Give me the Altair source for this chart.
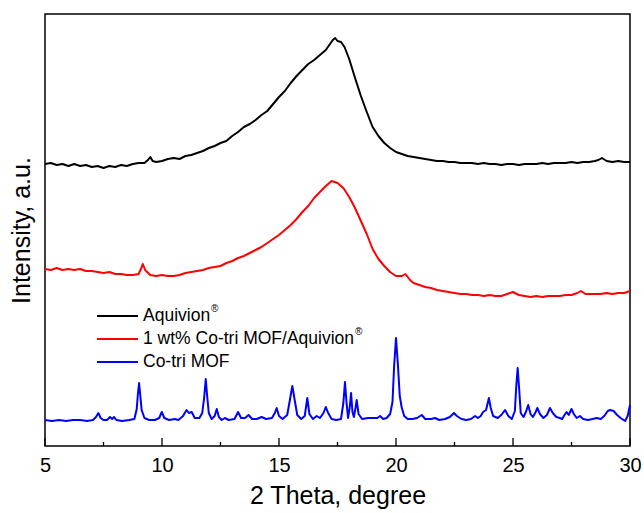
import altair as alt
import pandas as pd

# ---- data ----
series_names = ["Aquivion®", "1 wt% Co-tri MOF/Aquivion®", "Co-tri MOF"]
legend_main = ["Aquivion", "1 wt% Co-tri MOF/Aquivion", "Co-tri MOF"]
legend_sup = ["®", "®", ""]
series_colors = ["#000000", "#ff0000", "#0000ff"]

black_x = [5.00, 5.25, 5.50, 5.75, 6.00, 6.25, 6.50, 6.75, 7.00, 7.25, 7.50, 7.75, 8.00, 8.25, 8.50, 8.75,
           9.00, 9.25, 9.40, 9.50, 9.60, 9.75, 10.00, 10.25, 10.50, 10.75, 11.00, 11.25, 11.50, 11.75, 12.00,
           12.25, 12.50, 12.75, 13.00, 13.25, 13.50, 13.75, 14.00, 14.25, 14.50, 14.75, 15.00, 15.25, 15.50,
           15.75, 16.00, 16.25, 16.50, 16.75, 17.00, 17.15, 17.30, 17.40, 17.50, 17.65, 17.80, 18.00, 18.25,
           18.50, 18.75, 19.00, 19.25, 19.50, 19.75, 20.00, 20.25, 20.50, 20.75, 21.00, 21.25, 21.50, 21.75,
           22.00, 22.25, 22.50, 22.75, 23.00, 23.25, 23.50, 23.75, 24.00, 24.25, 24.50, 24.75, 25.00, 25.25,
           25.50, 25.75, 26.00, 26.25, 26.50, 26.75, 27.00, 27.25, 27.50, 27.75, 28.00, 28.25, 28.50, 28.65,
           28.80, 29.00, 29.25, 29.50, 29.75, 30.00]
black_y = [282, 283, 281, 282, 280, 282, 280, 281, 279, 280, 278, 280, 279, 281, 280, 282,
           283, 283, 286, 289, 285, 284, 285, 287, 288, 287, 290, 291, 293, 295, 298,
           300, 303, 305, 310, 314, 319, 322, 326, 331, 335, 342, 349, 355, 363,
           370, 376, 382, 386, 391, 396, 401, 406, 408, 405, 404, 399, 387, 368,
           350, 334, 319, 310, 303, 298, 294, 292, 290, 289, 288, 287, 286, 285,
           285, 284, 284, 283, 283, 283, 282, 283, 282, 282, 281, 282, 282, 281,
           282, 282, 282, 283, 282, 283, 283, 283, 284, 283, 284, 284, 285, 286,
           288, 285, 284, 285, 284, 284]

red_x = [5.00, 5.25, 5.50, 5.75, 6.00, 6.25, 6.50, 6.75, 7.00, 7.25, 7.50, 7.75, 8.00, 8.25, 8.50, 8.75,
         9.00, 9.10, 9.18, 9.28, 9.50, 9.75, 10.00, 10.25, 10.50, 10.75, 11.00, 11.25, 11.50, 11.75, 12.00,
         12.25, 12.50, 12.75, 13.00, 13.25, 13.50, 13.75, 14.00, 14.25, 14.50, 14.75, 15.00, 15.25, 15.50,
         15.75, 16.00, 16.25, 16.50, 16.75, 17.00, 17.25, 17.50, 17.75, 18.00, 18.25, 18.50, 18.75, 19.00,
         19.25, 19.50, 19.75, 20.00, 20.25, 20.40, 20.60, 20.75, 21.00, 21.25, 21.50, 21.75, 22.00, 22.25,
         22.50, 22.75, 23.00, 23.25, 23.50, 23.75, 24.00, 24.25, 24.50, 24.75, 25.00, 25.25, 25.50, 25.75,
         26.00, 26.25, 26.50, 26.75, 27.00, 27.25, 27.50, 27.75, 27.90, 28.10, 28.50, 28.75, 29.00, 29.25,
         29.50, 29.75, 30.00]
red_y = [177, 176, 178, 176, 177, 176, 177, 175, 175, 174, 173, 174, 172, 172, 171, 171,
         172, 177, 182, 176, 171, 170, 171, 170, 170, 171, 173, 174, 175, 176, 178,
         179, 180, 183, 185, 188, 190, 193, 196, 199, 203, 207, 211, 216, 221,
         227, 234, 240, 248, 254, 260, 265, 263, 258, 249, 238, 225, 212, 197,
         187, 180, 174, 170, 170, 172, 166, 163, 161, 159, 158, 156, 155, 154,
         153, 152, 152, 151, 151, 150, 151, 150, 150, 152, 154, 151, 150, 149,
         150, 149, 150, 150, 150, 151, 151, 153, 155, 152, 152, 152, 153, 152,
         153, 153, 155]

blue_x = [5.00, 5.30, 5.60, 5.90, 6.20, 6.50, 6.80, 7.05, 7.18, 7.28, 7.38, 7.50, 7.65, 7.78, 7.87, 7.95,
          8.05, 8.30, 8.60, 8.82, 8.92, 8.97, 9.02, 9.07, 9.13, 9.25, 9.45, 9.70, 9.88, 9.99, 10.10, 10.30,
          10.55, 10.70, 10.90, 11.05, 11.15, 11.27, 11.40, 11.60, 11.72, 11.80, 11.87, 11.93, 12.00, 12.12,
          12.25, 12.34, 12.43, 12.55, 12.69, 12.85, 13.10, 13.25, 13.38, 13.55, 13.70, 13.85, 14.05, 14.26,
          14.45, 14.70, 14.82, 14.90, 15.00, 15.15, 15.35, 15.45, 15.57, 15.67, 15.78, 15.95, 16.10, 16.21,
          16.30, 16.45, 16.61, 16.75, 16.90, 17.00, 17.10, 17.25, 17.45, 17.65, 17.75, 17.82, 17.88, 17.95,
          18.02, 18.08, 18.14, 18.20, 18.27, 18.32, 18.40, 18.55, 18.80, 19.00, 19.20, 19.32, 19.45, 19.60,
          19.75, 19.85, 19.92, 20.00, 20.08, 20.16, 20.24, 20.35, 20.50, 20.70, 20.90, 21.10, 21.25, 21.50,
          21.67, 21.85, 22.10, 22.30, 22.48, 22.60, 22.80, 23.00, 23.20, 23.38, 23.50, 23.62, 23.72, 23.85,
          23.97, 24.05, 24.15, 24.35, 24.50, 24.66, 24.80, 24.95, 25.08, 25.14, 25.20, 25.26, 25.33, 25.45,
          25.55, 25.65, 25.75, 25.85, 25.95, 26.04, 26.15, 26.30, 26.45, 26.58, 26.70, 26.85, 27.00, 27.10,
          27.20, 27.29, 27.38, 27.50, 27.60, 27.72, 27.86, 28.00, 28.20, 28.40, 28.58, 28.75, 28.90, 29.05,
          29.15, 29.30, 29.45, 29.60, 29.79, 29.90, 30.00]
blue_y = [26, 25, 26, 25, 26, 26, 25, 26, 29, 33, 28, 26, 26, 29, 27, 29,
          26, 25, 26, 27, 37, 52, 63, 51, 36, 28, 26, 26, 28, 34, 28, 26,
          27, 26, 30, 36, 33, 34, 28, 28, 33, 48, 67, 50, 33, 27,
          30, 37, 29, 26, 28, 26, 27, 34, 28, 28, 31, 27, 27, 29,
          27, 28, 33, 38, 30, 27, 31, 44, 60, 46, 31, 27, 30, 48,
          32, 27, 30, 28, 33, 39, 33, 27, 26, 27, 43, 64, 45, 28,
          38, 53, 34, 29, 38, 46, 32, 27, 28, 28, 28, 30, 27, 28,
          32, 44, 80, 108, 82, 50, 39, 30, 27, 27, 28, 31, 27, 27,
          28, 26, 27, 29, 33, 30, 27, 26, 27, 30, 28, 30, 34, 36,
          48, 38, 30, 28, 31, 36, 30, 27, 35, 60, 78, 58, 33, 29,
          34, 41, 32, 29, 33, 38, 32, 28, 31, 38, 33, 29, 28, 27,
          31, 34, 31, 37, 32, 28, 30, 27, 26, 27, 28, 27, 30, 35,
          36, 35, 31, 28, 25, 30, 41]

major_ticks = [5, 10, 15, 20, 25, 30]
minor_ticks = [7.5, 12.5, 17.5, 22.5, 27.5]

# ---- tables ----
rows = []
for name, xs, ys in zip(series_names, [black_x, red_x, blue_x], [black_y, red_y, blue_y]):
    for i, (a, b) in enumerate(zip(xs, ys)):
        rows.append({"theta": a, "intensity": b, "series": name, "order": i})
df = pd.DataFrame(rows)
legend_df = pd.DataFrame({"series": series_names, "main": legend_main, "sup": legend_sup})

FONT = "Liberation Sans"
x_scale = alt.Scale(domain=[5, 30], nice=False, zero=False)
y_scale = alt.Scale(domain=[0, 432], nice=False, zero=False)
color_scale = alt.Scale(domain=series_names, range=series_colors)
leg_y_scale = alt.Scale(type="point", domain=series_names, range=[302, 348], padding=0)

lines = alt.Chart(df).mark_line(strokeWidth=2, strokeJoin="round").encode(
    x=alt.X("theta:Q", scale=x_scale,
            axis=alt.Axis(title="2 Theta, degree", values=major_ticks, grid=False, domain=False,
                          ticks=False, labelFont=FONT, labelFontSize=20, labelColor="black",
                          labelFlush=False, labelOverlap=False,
                          labelPadding=9, titleFont=FONT, titleFontSize=25, titleFontWeight="normal",
                          titleColor="black", titlePadding=8)),
    y=alt.Y("intensity:Q", scale=y_scale,
            axis=alt.Axis(title="Intensity, a.u.", labels=False, ticks=False, domain=False, grid=False,
                          titleFont=FONT, titleFontSize=25, titleFontWeight="normal",
                          titleColor="black", titlePadding=11)),
    color=alt.Color("series:N", scale=color_scale, legend=None),
    order="order:Q",
)

# legend drawn as marks
leg_lines = alt.Chart(legend_df).mark_rule(strokeWidth=2).encode(
    x=alt.value(52), x2=alt.value(93),
    y=alt.Y("series:N", scale=leg_y_scale, axis=None),
    color=alt.Color("series:N", scale=color_scale, legend=None),
)
leg_text = alt.Chart(legend_df).mark_text(align="left", baseline="middle", font=FONT,
                                          fontSize=17.5, color="black").encode(
    x=alt.value(98),
    y=alt.Y("series:N", scale=leg_y_scale, axis=None),
    text="main:N",
)
leg_sup1 = alt.Chart(legend_df.iloc[[0]]).mark_text(align="left", baseline="middle", font=FONT,
                                                    fontSize=10, color="black", dy=-7).encode(
    x=alt.value(166),
    y=alt.Y("series:N", scale=leg_y_scale, axis=None),
    text="sup:N",
)
leg_sup2 = alt.Chart(legend_df.iloc[[1]]).mark_text(align="left", baseline="middle", font=FONT,
                                                    fontSize=10, color="black", dy=-7).encode(
    x=alt.value(310),
    y=alt.Y("series:N", scale=leg_y_scale, axis=None),
    text="sup:N",
)

major_df = pd.DataFrame({"t": major_ticks})
minor_df = pd.DataFrame({"t": minor_ticks})
major = alt.Chart(major_df).mark_rule(color="black", strokeWidth=1.3).encode(
    x=alt.X("t:Q", scale=x_scale), y=alt.value(432), y2=alt.value(424))
minor = alt.Chart(minor_df).mark_rule(color="black", strokeWidth=1.3).encode(
    x=alt.X("t:Q", scale=x_scale), y=alt.value(432), y2=alt.value(428))

chart = alt.layer(lines, major, minor, leg_lines, leg_text, leg_sup1, leg_sup2).resolve_scale(
    y="independent"
).properties(
    width=585, height=432,
    autosize=alt.AutoSizeParams(type="none"),
    padding={"left": 45, "top": 14, "right": 14, "bottom": 67},
    background="white",
).configure_view(stroke="black", strokeWidth=1.5)

chart.save("out.html", embed_options={"renderer": "svg", "actions": False})
